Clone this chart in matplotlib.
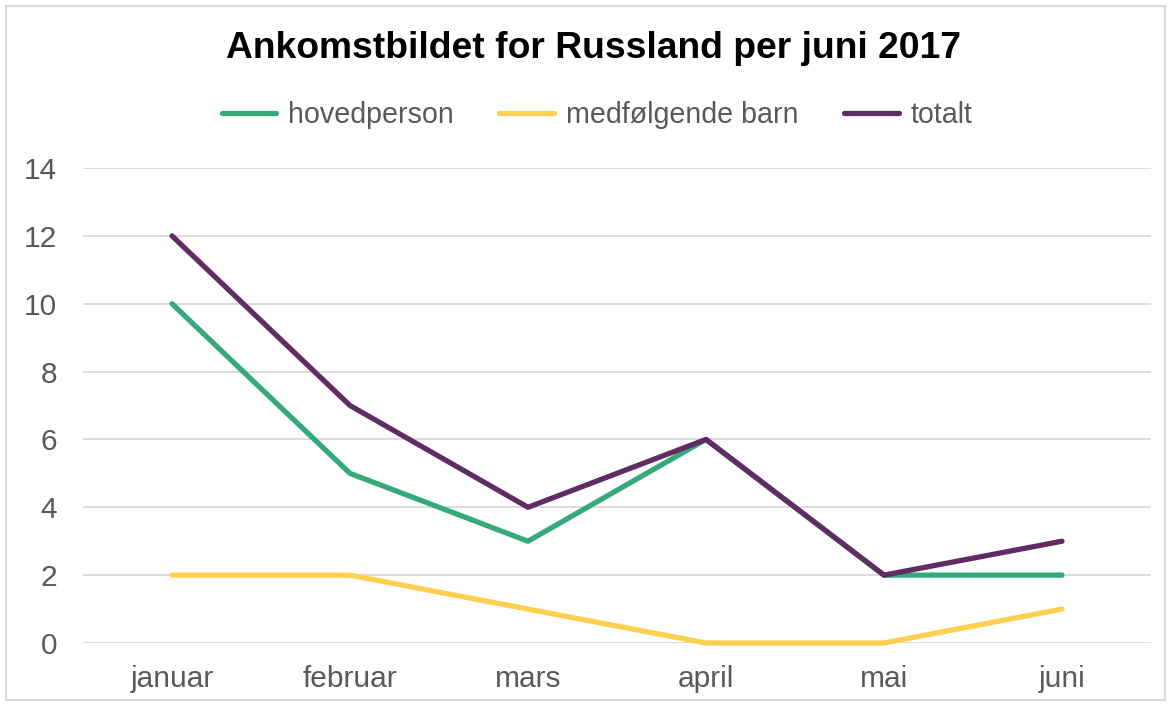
import matplotlib

matplotlib.use("Agg")
import matplotlib.pyplot as plt
from matplotlib.patches import Rectangle

MONTHS = ["januar", "februar", "mars", "april", "mai", "juni"]
HOVEDPERSON = [10, 5, 3, 6, 2, 2]
BARN = [2, 2, 1, 0, 0, 1]
TOTALT = [12, 7, 4, 6, 2, 3]
Y_TICKS = [0, 2, 4, 6, 8, 10, 12, 14]

SERIES = [
    ("hovedperson", HOVEDPERSON, "#36A97B"),
    ("medfølgende barn", BARN, "#FFCF4F"),
    ("totalt", TOTALT, "#612C63"),
]

plt.rcParams["font.family"] = ["Liberation Sans", "DejaVu Sans"]

W, H = 1171, 706
fig = plt.figure(figsize=(W / 100, H / 100), dpi=100)
fig.patch.set_facecolor("white")

# light grey frame round the whole chart
fig.patches.append(
    Rectangle((6 / W, 6 / H), 1159 / W, 694 / H, transform=fig.transFigure,
              fill=False, edgecolor="#D9D9D9", linewidth=1.5)
)

ax = fig.add_axes([83 / W, 63 / H, (1151 - 83) / W, (643 - 168) / H])
x = list(range(len(MONTHS)))
for name, vals, color in SERIES:
    ax.plot(x, vals, color=color, linewidth=3.8, solid_capstyle="round",
            solid_joinstyle="round", label=name, clip_on=False, zorder=3)

ax.set_xlim(-0.5, len(MONTHS) - 0.5)
ax.set_ylim(0, 14)
ax.set_yticks(Y_TICKS)
ax.set_xticks(x)
ax.set_xticklabels(MONTHS)
ax.grid(axis="y", color="#D9D9D9", linewidth=1.3)
ax.set_axisbelow(True)
for s in ax.spines.values():
    s.set_visible(False)
ax.tick_params(length=0, labelsize=21.5, colors="#595959")
ax.tick_params(axis="y", pad=18.5)
ax.tick_params(axis="x", pad=16)

fig.text(593 / W, 1 - 49 / H, "Ankomstbildet for Russland per juni 2017",
         ha="center", va="center", fontsize=26.8, fontweight="bold")

leg = fig.legend(loc="center", bbox_to_anchor=(597 / W, 1 - 115 / H), ncol=3,
                 frameon=False, fontsize=20.6, handlelength=1.9,
                 handletextpad=0.42, columnspacing=1.6)
for t in leg.get_texts():
    t.set_color("#595959")

fig.savefig("out.png", dpi=100, facecolor="white")
